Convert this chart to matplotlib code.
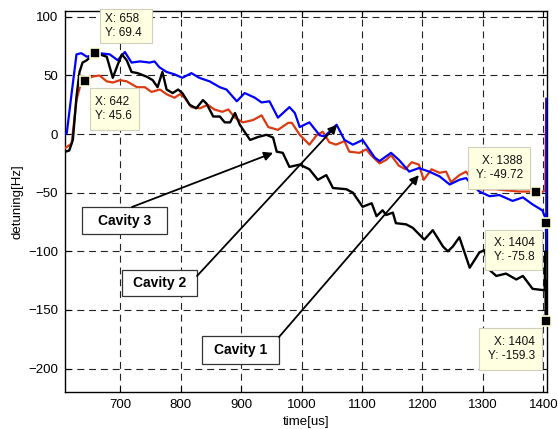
import matplotlib
matplotlib.use("Agg")
import matplotlib.pyplot as plt
from matplotlib.patches import Rectangle

plt.rcParams['font.family'] = ['Liberation Sans', 'DejaVu Sans']
plt.rcParams['lines.scale_dashes'] = False

# cavity traces (time in us, detuning in Hz)
blue_t = [609, 612, 620, 628, 636, 645, 666, 683, 696, 708, 719, 733, 749, 757, 765, 777,
          790, 803, 818, 831, 848, 865, 876, 893, 906, 923, 934, 947, 961, 980, 989, 997,
          1013, 1030, 1038, 1058, 1071, 1085, 1101, 1109, 1121, 1129, 1148, 1161, 1178, 1194,
          1211, 1228, 1245, 1261, 1272, 1283, 1294, 1311, 1327, 1349, 1366, 1382, 1398, 1402,
          1404, 1404.5, 1405]
blue_y = [0, 1, 35, 68, 69, 66, 69, 68, 63, 70, 61, 62, 61, 62, 57, 53,
          51, 48, 52, 48, 45, 40, 38, 28, 35, 31, 27, 28, 14, 23, 18, 6,
          10, -1, -2, 8, -5, -9, -5, -11, -20, -23, -16, -22, -32, -29,
          -32, -36, -43, -39, -37.5, -44, -49, -53, -52, -57, -54, -60, -65, -70,
          -75.8, -99, 30]

red_t = [609, 612, 620, 628, 636, 642, 654, 666, 678, 688, 700, 711, 728, 741, 752, 766,
         777, 790, 799, 807, 818, 832, 845, 856, 869, 879, 890, 903, 920, 934, 945, 961,
         978, 984, 997, 1013, 1025, 1035, 1046, 1057, 1071, 1079, 1096, 1107, 1115, 1129,
         1140, 1148, 1161, 1172, 1182, 1194, 1202, 1215, 1228, 1239, 1247, 1261, 1272, 1294,
         1320, 1338, 1360, 1376, 1388, 1400, 1403, 1404.5]
red_y = [-12, -11, -8, 29, 45, 45.6, 49, 50, 45, 44, 46, 45, 40, 40, 36, 38,
         34, 31, 34, 31, 23, 22, 25, 21, 19, 21, 14, 10, 12, 16, 6, 3.6,
         9.6, 9.6, -0.6, -9, -1, 2, -7, -9, -6, -15, -16, -13, -18, -25,
         -22, -18, -27, -30, -24, -26, -39, -30, -33, -32, -41, -35, -32, -47,
         -47, -48, -49, -49, -49.72, -49, -48, 30]

black_t = [609, 610, 616, 622, 628, 633, 638, 645, 658, 678, 688, 696, 703, 711, 719, 729,
           744, 754, 762, 770, 777, 787, 796, 803, 815, 826, 837, 843, 854, 865, 873, 882,
           890, 898, 915, 928, 942, 953, 959, 969, 980, 997, 1013, 1027, 1041, 1052, 1074,
           1085, 1101, 1116, 1124, 1134, 1140, 1151, 1156, 1173, 1184, 1203, 1217, 1234, 1242,
           1250, 1261, 1278, 1294, 1302, 1311, 1322, 1338, 1355, 1366, 1382, 1398, 1402,
           1403, 1404, 1404.5]
black_y = [-14, -15, -14, -5, 32, 53, 61, 63, 69.4, 66, 48, 59, 68, 63, 53, 52,
           49, 46, 40, 53, 38, 35, 38, 35, 25, 22, 29, 26, 15, 15, 10, 10,
           18, 8, -5, -2.5, -0.6, -3, -15, -16, -28, -26, -30, -39, -35, -46, -47,
           -50, -62, -59, -70, -65, -69, -67, -76, -77, -80, -90, -82, -96, -100,
           -96, -88, -114, -101, -99, -116, -121, -119, -124, -121, -132, -133, -133,
           -100, -159.3, -125]

# data cursors
tip_x = [658, 642, 1388, 1404, 1404]
tip_y = [69.4, 45.6, -49.72, -75.8, -159.3]

# labelled arrows: label and the point the arrow reaches
cav_labels = ["Cavity 3", "Cavity 2", "Cavity 1"]
cav_target_t = [953, 1059, 1194]
cav_target_y = [-16, 8, -35]

fig = plt.figure(figsize=(5.58, 4.29), dpi=100)
ax = fig.add_axes([65 / 558, 37 / 429, 481.5 / 558, 381 / 429])


def px(x, y):
    # pixel position of the reference picture -> axes fraction
    return (x - 65) / 481.5, (392 - y) / 381


ax.plot(red_t, red_y, color='#DC3A12', lw=1.6, zorder=3)
ax.plot(blue_t, blue_y, color='#0000FF', lw=1.6, zorder=3)
ax.plot(black_t, black_y, color='k', lw=1.7, zorder=3)

ax.set_xlim(609, 1405)
ax.set_ylim(-220, 105)
ax.set_xticks(range(700, 1401, 100))
ax.set_yticks(range(-200, 101, 50))
ax.grid(True, color='#222222', lw=0.8, dashes=(5, 3.5))
ax.tick_params(direction='in', length=4, top=True, right=True, labelsize=9.5, pad=5,
               color='k')
for s in ax.spines.values():
    s.set_linewidth(1.0)
ax.set_xlabel("time[us]", fontsize=9.5, labelpad=4)
ax.set_ylabel("detuning[Hz]", fontsize=9.5, labelpad=3)

# data cursor markers and boxes
ax.plot(tip_x, tip_y, 's', color='k', ms=6.5, mec='#FFFFD8', mew=1.2, zorder=6,
        clip_on=False)
tip_boxes = [(100, 9, 152, 43), (90, 88, 139, 130), (468, 147, 530, 189),
             (485, 230, 542, 270), (479, 328, 542, 370)]
for i, (x0, y0, x1, y1) in enumerate(tip_boxes):
    a0, b0 = px(x0, y1)
    a1, b1 = px(x1, y0)
    ax.add_patch(Rectangle((a0, b0), a1 - a0, b1 - b0, transform=ax.transAxes,
                           facecolor='#FFFFE1', edgecolor='#CFCFBE', lw=0.8,
                           zorder=7, clip_on=False))
    txt = "X: %g\nY: %g" % (tip_x[i], tip_y[i])
    if x0 < 300:
        tx, ha = px(x0 + 5, (y0 + y1) / 2)[0], 'left'
    else:
        tx, ha = px(x1 - 7, (y0 + y1) / 2)[0], 'right'
    ty = px(0, (y0 + y1) / 2)[1]
    ax.text(tx, ty, txt, transform=ax.transAxes, ha=ha, va='center', multialignment=ha,
            fontsize=8.5, linespacing=1.25, zorder=8, color='#111111')

# cavity labels with arrows
cav_boxes = [(82, 207, 167, 234), (122, 270, 197, 296), (202, 336, 279, 364)]
cav_starts = [(132, 207), (197, 276), (279, 337)]
for i, (x0, y0, x1, y1) in enumerate(cav_boxes):
    a0, b0 = px(x0, y1)
    a1, b1 = px(x1, y0)
    ax.add_patch(Rectangle((a0, b0), a1 - a0, b1 - b0, transform=ax.transAxes,
                           facecolor='white', edgecolor='#333333', lw=0.9, zorder=7))
    ax.text((a0 + a1) / 2, (b0 + b1) / 2, cav_labels[i], transform=ax.transAxes,
            ha='center', va='center', fontsize=10, fontweight='bold', zorder=8)
    ax.annotate('', xy=(cav_target_t[i], cav_target_y[i]), xycoords='data',
                xytext=px(*cav_starts[i]), textcoords='axes fraction',
                arrowprops=dict(arrowstyle='-|>', color='k', lw=1.3,
                                mutation_scale=13, shrinkA=0, shrinkB=0),
                zorder=8)

fig.savefig("out.png", dpi=100)
